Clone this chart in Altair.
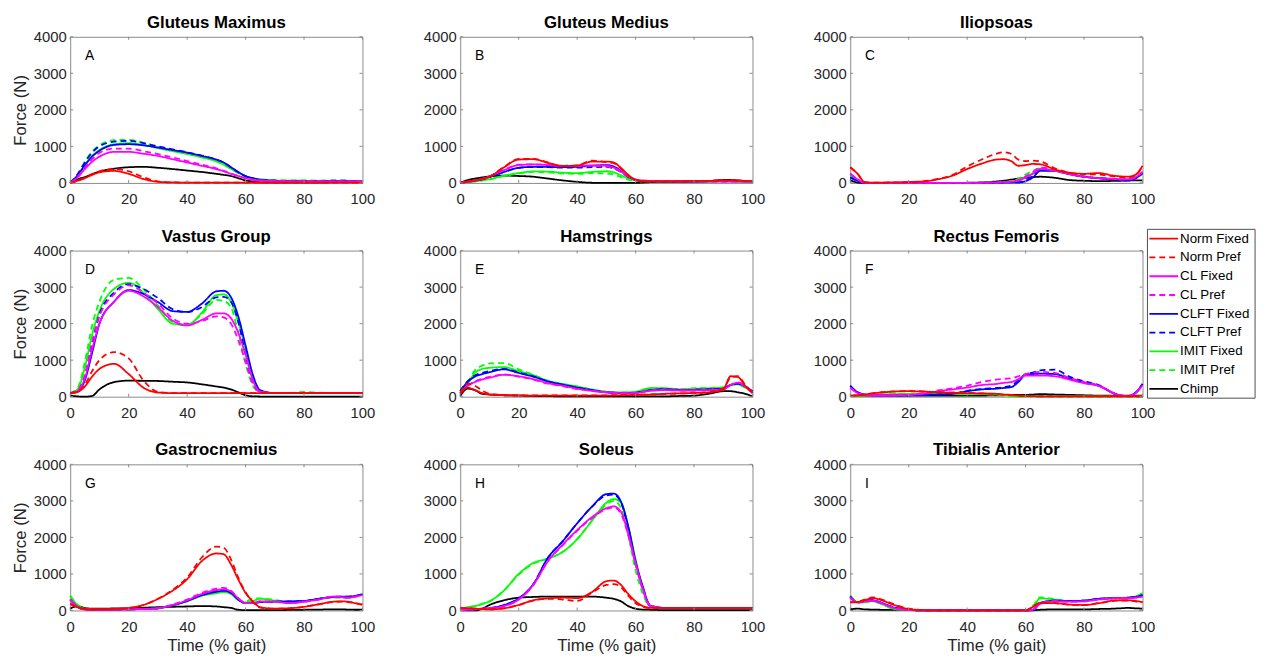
import altair as alt
import pandas as pd

# ---------------- data ----------------
X = [0, 2.5, 5, 7.5, 10, 15, 20, 25, 30, 35, 40, 45, 50, 52.5, 55,
     57.5, 60, 62.5, 65, 70, 75, 80, 85, 90, 92.5, 95, 97.5, 100]

SERIES = ["Norm Fixed", "Norm Pref", "CL Fixed", "CL Pref", "CLFT Fixed",
          "CLFT Pref", "IMIT Fixed", "IMIT Pref", "Chimp"]
COLORS = ["#ff0000", "#ff0000", "#ff00ff", "#ff00ff", "#0000ff",
          "#0000ff", "#00ff00", "#00ff00", "#000000"]
DASHES = [[1, 0], [6, 4], [1, 0], [6, 4], [1, 0], [6, 4], [1, 0], [6, 4], [1, 0]]

TITLES = ["Gluteus Maximus", "Gluteus Medius", "Iliopsoas",
          "Vastus Group", "Hamstrings", "Rectus Femoris",
          "Gastrocnemius", "Soleus", "Tibialis Anterior"]
LETTERS = ["A", "B", "C", "D", "E", "F", "G", "H", "I"]
TICK_X = [0, 20, 40, 60, 80, 100]
TICK_Y = [0, 1000, 2000, 3000, 4000]

GLUT_MAX = {
    "Norm Fixed": [0, 60, 130, 220, 290, 330, 250, 110, 30, 15, 10, 10, 10, 10, 10, 10, 10, 10, 10, 10, 10, 10, 10, 10, 10, 10, 10, 10],
    "Norm Pref": [0, 60, 140, 240, 320, 380, 320, 160, 40, 15, 10, 10, 10, 10, 10, 10, 10, 10, 10, 10, 10, 10, 10, 10, 10, 10, 10, 10],
    "CL Fixed": [0, 150, 380, 580, 720, 850, 850, 800, 740, 650, 560, 470, 380, 320, 250, 190, 130, 90, 70, 50, 45, 40, 40, 40, 40, 40, 40, 40],
    "CL Pref": [0, 170, 420, 650, 820, 940, 940, 870, 790, 700, 600, 500, 400, 330, 260, 190, 130, 90, 70, 50, 45, 40, 40, 40, 40, 40, 40, 40],
    "CLFT Fixed": [0, 200, 480, 720, 880, 1040, 1060, 1030, 970, 900, 830, 740, 640, 560, 430, 300, 190, 130, 90, 60, 50, 45, 45, 50, 50, 50, 45, 40],
    "CLFT Pref": [0, 230, 560, 830, 1000, 1130, 1150, 1090, 1000, 920, 840, 750, 640, 560, 430, 290, 180, 120, 90, 60, 55, 55, 55, 60, 60, 60, 50, 40],
    "IMIT Fixed": [0, 210, 500, 740, 900, 1060, 1090, 1040, 950, 870, 790, 700, 590, 500, 390, 280, 190, 130, 100, 70, 60, 60, 55, 55, 55, 55, 50, 45],
    "IMIT Pref": [0, 240, 580, 860, 1030, 1170, 1180, 1100, 990, 900, 810, 710, 600, 510, 390, 270, 180, 130, 100, 80, 70, 70, 65, 70, 70, 65, 55, 45],
    "Chimp": [0, 100, 160, 240, 310, 390, 430, 440, 415, 380, 340, 300, 250, 220, 190, 130, 70, 40, 18, 15, 15, 15, 15, 20, 20, 20, 20, 20],
}
GLUT_MED = {
    "Norm Fixed": [0, 40, 70, 110, 170, 430, 640, 650, 550, 460, 475, 585, 585, 560, 410, 220, 80, 50, 45, 45, 45, 50, 55, 70, 70, 65, 55, 40],
    "Norm Pref": [0, 40, 70, 110, 170, 440, 660, 660, 560, 470, 480, 610, 570, 540, 390, 200, 80, 50, 45, 45, 45, 50, 55, 65, 65, 60, 50, 40],
    "CL Fixed": [0, 30, 60, 110, 180, 350, 490, 505, 490, 470, 470, 480, 470, 420, 320, 180, 100, 60, 50, 50, 45, 45, 45, 45, 45, 45, 40, 40],
    "CL Pref": [0, 30, 60, 110, 180, 360, 500, 510, 490, 465, 460, 470, 450, 400, 300, 170, 90, 70, 60, 55, 50, 45, 45, 45, 45, 45, 40, 40],
    "CLFT Fixed": [0, 30, 60, 100, 160, 300, 415, 440, 440, 430, 440, 470, 490, 450, 330, 170, 90, 50, 45, 45, 45, 45, 45, 45, 45, 45, 40, 40],
    "CLFT Pref": [0, 30, 60, 100, 160, 300, 410, 435, 430, 420, 420, 430, 440, 400, 300, 160, 80, 50, 45, 45, 45, 45, 45, 45, 45, 45, 40, 40],
    "IMIT Fixed": [0, 20, 40, 70, 100, 200, 270, 315, 310, 280, 270, 300, 320, 290, 210, 120, 70, 40, 40, 40, 40, 40, 45, 50, 50, 45, 40, 40],
    "IMIT Pref": [0, 20, 40, 70, 100, 190, 260, 300, 290, 260, 250, 270, 260, 230, 160, 90, 55, 40, 40, 40, 40, 40, 45, 50, 50, 45, 40, 40],
    "Chimp": [0, 80, 120, 150, 180, 200, 190, 170, 120, 70, 30, 5, 0, 0, 0, 0, 0, 10, 20, 30, 30, 30, 50, 80, 80, 70, 50, 30],
}
ILIOPSOAS = {
    "Norm Fixed": [430, 250, 20, 10, 10, 15, 25, 40, 100, 200, 380, 530, 640, 650, 600, 470, 490, 520, 510, 370, 280, 250, 270, 200, 180, 170, 220, 470],
    "Norm Pref": [430, 250, 20, 10, 10, 15, 25, 45, 110, 220, 450, 640, 800, 840, 800, 640, 600, 610, 590, 400, 280, 240, 230, 180, 160, 150, 200, 460],
    "CL Fixed": [250, 100, 5, 0, 0, 0, 0, 0, 0, 0, 0, 5, 10, 20, 30, 60, 150, 250, 380, 330, 240, 170, 130, 110, 100, 100, 150, 300],
    "CL Pref": [260, 100, 5, 0, 0, 0, 0, 0, 0, 0, 0, 5, 10, 20, 40, 80, 180, 300, 420, 360, 250, 170, 130, 110, 100, 100, 150, 300],
    "CLFT Fixed": [150, 60, 5, 0, 0, 0, 0, 0, 0, 0, 0, 0, 5, 10, 15, 10, 50, 150, 330, 330, 240, 170, 130, 100, 80, 70, 120, 280],
    "CLFT Pref": [150, 60, 5, 0, 0, 0, 0, 0, 0, 0, 0, 0, 5, 10, 15, 20, 70, 180, 350, 340, 250, 170, 130, 100, 80, 70, 120, 270],
    "IMIT Fixed": [200, 80, 5, 0, 0, 0, 0, 0, 0, 0, 0, 5, 10, 20, 40, 80, 170, 270, 390, 330, 240, 170, 130, 110, 100, 100, 130, 250],
    "IMIT Pref": [210, 80, 5, 0, 0, 0, 0, 0, 0, 0, 0, 5, 10, 25, 50, 110, 230, 330, 400, 340, 240, 170, 130, 110, 100, 100, 130, 250],
    "Chimp": [80, 10, 0, 0, 0, 0, 0, 0, 0, 0, 5, 15, 40, 60, 90, 120, 140, 160, 170, 140, 80, 60, 50, 55, 60, 65, 70, 70],
}
VASTUS = {
    "Norm Fixed": [100, 130, 280, 550, 760, 900, 620, 250, 115, 100, 100, 100, 100, 100, 100, 100, 100, 100, 100, 100, 100, 100, 100, 100, 100, 100, 100, 100],
    "Norm Pref": [100, 140, 330, 700, 1000, 1220, 1050, 450, 130, 100, 100, 100, 100, 100, 100, 100, 100, 100, 100, 100, 100, 100, 100, 100, 100, 100, 100, 100],
    "CL Fixed": [100, 150, 500, 1300, 2000, 2600, 2900, 2750, 2450, 2080, 1950, 2100, 2280, 2280, 2150, 1750, 1150, 450, 140, 100, 100, 100, 100, 100, 100, 100, 100, 100],
    "CL Pref": [100, 170, 600, 1500, 2200, 2800, 3050, 2850, 2550, 2150, 2000, 2070, 2200, 2170, 2000, 1550, 950, 350, 130, 100, 100, 100, 100, 100, 100, 100, 100, 100],
    "CLFT Fixed": [100, 140, 450, 1200, 2000, 2600, 2920, 2815, 2590, 2345, 2320, 2545, 2885, 2900, 2725, 2200, 1400, 600, 180, 100, 100, 100, 100, 100, 100, 100, 100, 100],
    "CLFT Pref": [100, 160, 550, 1450, 2250, 2850, 3080, 2950, 2700, 2400, 2320, 2450, 2720, 2730, 2600, 2050, 1150, 400, 140, 100, 100, 100, 100, 100, 100, 100, 100, 100],
    "IMIT Fixed": [100, 200, 800, 1700, 2350, 2950, 3120, 2850, 2400, 2000, 1960, 2300, 2780, 2800, 2600, 2050, 1300, 500, 140, 100, 100, 100, 100, 100, 100, 100, 100, 100],
    "IMIT Pref": [100, 230, 950, 1950, 2600, 3200, 3250, 2950, 2500, 2050, 1980, 2250, 2650, 2620, 2450, 1750, 900, 300, 120, 100, 100, 130, 110, 100, 100, 100, 100, 100],
    "Chimp": [30, 10, 0, 20, 200, 400, 440, 435, 430, 410, 390, 340, 280, 250, 200, 120, 40, 10, 5, 0, 0, 0, 0, 0, 0, 0, 0, 0],
}
HAMSTRINGS = {
    "Norm Fixed": [80, 250, 180, 100, 60, 40, 35, 30, 30, 30, 30, 30, 30, 35, 40, 45, 50, 55, 60, 80, 90, 100, 120, 200, 560, 540, 300, 100],
    "Norm Pref": [100, 350, 300, 170, 80, 50, 40, 35, 35, 35, 35, 35, 35, 40, 40, 45, 50, 55, 60, 80, 90, 100, 130, 220, 520, 560, 320, 100],
    "CL Fixed": [100, 300, 400, 470, 520, 600, 560, 480, 370, 300, 220, 160, 120, 110, 100, 100, 100, 130, 160, 180, 170, 170, 180, 200, 320, 380, 280, 100],
    "CL Pref": [100, 300, 420, 490, 540, 610, 550, 470, 360, 290, 210, 160, 120, 110, 100, 100, 100, 130, 170, 180, 170, 170, 180, 200, 320, 390, 290, 100],
    "CLFT Fixed": [150, 400, 550, 620, 670, 750, 650, 550, 420, 330, 250, 180, 120, 110, 100, 100, 110, 140, 180, 200, 190, 190, 200, 220, 320, 360, 280, 150],
    "CLFT Pref": [150, 420, 580, 650, 700, 760, 660, 560, 420, 330, 250, 180, 120, 110, 100, 100, 110, 140, 180, 200, 190, 190, 200, 220, 320, 360, 280, 150],
    "IMIT Fixed": [200, 350, 650, 760, 790, 810, 700, 590, 430, 350, 280, 200, 135, 120, 115, 120, 135, 190, 235, 230, 200, 220, 230, 250, 320, 340, 250, 150],
    "IMIT Pref": [200, 380, 720, 850, 910, 920, 750, 600, 440, 350, 280, 200, 135, 120, 115, 120, 135, 190, 235, 230, 210, 230, 240, 260, 320, 330, 250, 150],
    "Chimp": [20, 220, 180, 80, 60, 40, 30, 20, 15, 10, 10, 10, 10, 10, 10, 10, 10, 10, 10, 10, 20, 30, 80, 150, 150, 120, 80, 10],
}
RECTUS = {
    "Norm Fixed": [20, 40, 60, 90, 110, 140, 150, 140, 120, 110, 100, 90, 80, 60, 50, 30, 20, 15, 10, 10, 10, 10, 10, 10, 10, 10, 10, 10],
    "Norm Pref": [20, 40, 60, 90, 115, 145, 155, 145, 125, 110, 100, 90, 75, 55, 45, 30, 20, 15, 10, 10, 10, 10, 10, 10, 10, 10, 10, 10],
    "CL Fixed": [250, 100, 50, 40, 40, 40, 50, 80, 150, 200, 250, 320, 350, 380, 400, 480, 580, 580, 580, 560, 470, 370, 300, 100, 40, 20, 90, 320],
    "CL Pref": [250, 100, 50, 40, 40, 40, 50, 90, 170, 230, 300, 400, 470, 490, 500, 560, 620, 660, 680, 650, 520, 400, 310, 100, 40, 20, 90, 320],
    "CLFT Fixed": [300, 120, 60, 40, 40, 40, 40, 50, 60, 80, 150, 200, 220, 240, 260, 400, 600, 620, 630, 620, 500, 380, 300, 100, 30, 20, 100, 350],
    "CLFT Pref": [300, 120, 60, 40, 40, 40, 40, 50, 60, 80, 160, 210, 240, 260, 300, 450, 620, 660, 720, 740, 550, 420, 320, 100, 30, 20, 100, 350],
    "IMIT Fixed": [20, 30, 40, 50, 60, 70, 80, 80, 80, 80, 80, 70, 60, 40, 20, 10, 10, 10, 10, 10, 10, 10, 10, 10, 10, 10, 10, 10],
    "IMIT Pref": [20, 30, 40, 50, 60, 70, 80, 85, 85, 85, 80, 70, 55, 35, 20, 10, 10, 10, 10, 10, 10, 10, 10, 10, 10, 10, 10, 10],
    "Chimp": [30, 30, 30, 30, 30, 30, 30, 30, 30, 30, 30, 30, 40, 40, 45, 50, 50, 60, 70, 60, 50, 40, 30, 30, 30, 30, 30, 30],
}
GASTROC = {
    "Norm Fixed": [180, 90, 40, 30, 30, 40, 70, 150, 315, 540, 855, 1350, 1560, 1540, 1260, 850, 480, 250, 90, 50, 60, 100, 170, 240, 250, 240, 200, 160],
    "Norm Pref": [180, 90, 40, 30, 30, 40, 70, 150, 320, 560, 900, 1450, 1750, 1720, 1400, 900, 500, 230, 80, 50, 60, 100, 170, 230, 240, 230, 200, 160],
    "CL Fixed": [300, 100, 30, 20, 20, 25, 30, 40, 60, 150, 280, 450, 560, 580, 520, 330, 200, 200, 250, 240, 200, 240, 300, 380, 370, 350, 380, 420],
    "CL Pref": [300, 100, 30, 20, 20, 25, 30, 40, 60, 160, 300, 480, 600, 620, 540, 340, 200, 200, 250, 240, 200, 240, 300, 380, 370, 350, 380, 420],
    "CLFT Fixed": [300, 100, 30, 20, 20, 25, 30, 40, 60, 140, 260, 420, 510, 540, 480, 300, 200, 200, 230, 240, 250, 260, 320, 370, 380, 380, 400, 440],
    "CLFT Pref": [300, 100, 30, 20, 20, 25, 30, 40, 60, 145, 270, 440, 540, 560, 500, 310, 200, 200, 230, 240, 250, 260, 320, 370, 380, 380, 400, 440],
    "IMIT Fixed": [400, 150, 50, 30, 20, 25, 30, 40, 60, 140, 250, 400, 470, 500, 450, 280, 220, 260, 320, 270, 220, 240, 320, 360, 360, 350, 380, 460],
    "IMIT Pref": [400, 150, 50, 30, 20, 25, 30, 40, 60, 150, 260, 420, 490, 520, 470, 300, 240, 330, 330, 290, 230, 250, 320, 350, 350, 350, 380, 450],
    "Chimp": [50, 120, 70, 50, 50, 55, 60, 75, 90, 100, 110, 120, 110, 90, 70, 20, 10, 10, 10, 10, 15, 20, 25, 30, 30, 25, 20, 20],
}
SOLEUS = {
    "Norm Fixed": [70, 60, 50, 40, 30, 60, 150, 280, 330, 350, 340, 500, 800, 820, 700, 450, 250, 120, 70, 70, 70, 70, 70, 70, 70, 70, 70, 70],
    "Norm Pref": [70, 60, 50, 40, 30, 60, 150, 270, 320, 300, 260, 480, 700, 720, 640, 400, 200, 100, 70, 70, 70, 70, 70, 70, 70, 70, 70, 70],
    "CL Fixed": [20, 20, 30, 50, 60, 120, 300, 700, 1350, 1800, 2200, 2550, 2800, 2850, 2700, 2100, 1300, 600, 130, 70, 70, 70, 70, 70, 70, 70, 70, 70],
    "CL Pref": [20, 20, 30, 50, 60, 120, 300, 700, 1350, 1780, 2180, 2520, 2780, 2820, 2650, 2050, 1250, 550, 120, 70, 70, 70, 70, 70, 70, 70, 70, 70],
    "CLFT Fixed": [20, 20, 30, 40, 60, 150, 330, 720, 1440, 1890, 2385, 2835, 3185, 3200, 2980, 2300, 1350, 650, 135, 70, 70, 70, 70, 70, 70, 70, 70, 70],
    "CLFT Pref": [20, 20, 30, 40, 60, 150, 330, 720, 1440, 1890, 2385, 2835, 3150, 3170, 2950, 2250, 1300, 600, 130, 70, 70, 70, 70, 70, 70, 70, 70, 70],
    "IMIT Fixed": [20, 90, 120, 180, 250, 550, 1000, 1300, 1420, 1600, 1950, 2450, 2950, 3050, 2950, 2300, 1400, 600, 120, 70, 70, 70, 70, 70, 70, 70, 70, 70],
    "IMIT Pref": [20, 90, 120, 180, 250, 550, 980, 1280, 1420, 1600, 1950, 2450, 2900, 3000, 2800, 2050, 1100, 450, 110, 70, 70, 70, 70, 70, 70, 70, 70, 70],
    "Chimp": [0, 0, 0, 50, 150, 280, 350, 370, 380, 380, 380, 380, 350, 320, 250, 120, 50, 25, 20, 10, 10, 10, 10, 10, 10, 10, 10, 10],
}
TIBIALIS = {
    "Norm Fixed": [220, 230, 280, 340, 300, 150, 40, 10, 0, 0, 0, 0, 0, 0, 0, 0, 0, 100, 200, 200, 160, 150, 200, 270, 280, 280, 260, 230],
    "Norm Pref": [230, 240, 300, 360, 320, 170, 50, 10, 0, 0, 0, 0, 0, 0, 0, 0, 0, 110, 210, 200, 160, 150, 200, 260, 270, 270, 250, 220],
    "CL Fixed": [350, 220, 250, 270, 220, 70, 15, 0, 0, 0, 0, 0, 0, 0, 0, 0, 0, 20, 180, 250, 240, 250, 300, 330, 340, 340, 350, 380],
    "CL Pref": [350, 220, 250, 270, 220, 70, 15, 0, 0, 0, 0, 0, 0, 0, 0, 0, 0, 30, 200, 260, 240, 250, 300, 330, 340, 340, 350, 380],
    "CLFT Fixed": [380, 220, 260, 280, 230, 80, 20, 0, 0, 0, 0, 0, 0, 0, 0, 0, 0, 10, 200, 270, 260, 270, 320, 340, 345, 350, 370, 420],
    "CLFT Pref": [380, 220, 260, 280, 230, 80, 20, 0, 0, 0, 0, 0, 0, 0, 0, 0, 0, 20, 210, 270, 260, 270, 320, 340, 345, 350, 370, 420],
    "IMIT Fixed": [400, 230, 220, 260, 200, 40, 10, 0, 0, 0, 0, 0, 0, 0, 0, 0, 0, 100, 330, 300, 250, 270, 310, 330, 340, 350, 380, 480],
    "IMIT Pref": [400, 230, 220, 260, 200, 45, 10, 0, 0, 0, 0, 0, 0, 0, 0, 0, 0, 130, 360, 310, 260, 270, 310, 330, 340, 350, 380, 470],
    "Chimp": [30, 50, 30, 25, 20, 15, 10, 5, 0, 0, 0, 0, 0, 0, 0, 0, 0, 5, 20, 30, 30, 30, 40, 50, 60, 70, 60, 50],
}
PANELS = [GLUT_MAX, GLUT_MED, ILIOPSOAS, VASTUS, HAMSTRINGS, RECTUS,
          GASTROC, SOLEUS, TIBIALIS]

for p in PANELS:
    for s in SERIES:
        assert len(p[s]) == len(X), (s, len(p[s]))

# ---------------- style ----------------
W, H = 296, 148
FONT = "Liberation Sans"
TXT = "#262626"
BOX = "#8a8a8a"
LEG_PANEL = 2  # legend drawn as layers of panel C (extends below it)


def legend_layers(color_enc, dash_enc):
    ld = pd.DataFrame({"series": SERIES, "idx": list(range(len(SERIES)))})
    box = alt.Chart(pd.DataFrame({"k": [0]})).mark_rect(
        fill="white", stroke="#4d4d4d", strokeWidth=1
    ).encode(x=alt.value(301), x2=alt.value(410), y=alt.value(195), y2=alt.value(366))
    base = alt.Chart(ld).transform_calculate(py="datum.idx * 19 + 204.5")
    sym = base.mark_rule(strokeWidth=1.8).encode(
        x=alt.value(303), x2=alt.value(332),
        y=alt.Y("py:Q", scale=None),
        color=color_enc, strokeDash=dash_enc)
    lab = base.mark_text(align="left", baseline="middle", font=FONT,
                         fontSize=13.5, color="#000000").encode(
        x=alt.value(334), y=alt.Y("py:Q", scale=None), text="series:N")
    return [box, sym, lab]


def panel(i):
    data = PANELS[i]
    rows = []
    for s in reversed(SERIES):
        for xv, yv in zip(X, data[s]):
            rows.append({"series": s, "x": xv, "y": yv})
    df = pd.DataFrame(rows)
    row, col = divmod(i, 3)

    xaxis = alt.Axis(values=TICK_X, format="d", labelFlush=False,
                     title="Time (% gait)" if row == 2 else None,
                     labelPadding=9, titlePadding=4)
    yaxis = alt.Axis(values=TICK_Y, format="d",
                     title="Force (N)" if col == 0 else None,
                     labelPadding=4, titlePadding=4)
    xs = alt.Scale(domain=[0, 100], nice=False)
    ys = alt.Scale(domain=[0, 4000], nice=False)

    color_enc = alt.Color("series:N", scale=alt.Scale(domain=SERIES, range=COLORS),
                          legend=None)
    dash_enc = alt.StrokeDash("series:N", scale=alt.Scale(domain=SERIES, range=DASHES),
                              legend=None)

    lines = alt.Chart(df).mark_line(strokeWidth=1.8, interpolate="monotone").encode(
        x=alt.X("x:Q", scale=xs, axis=xaxis),
        y=alt.Y("y:Q", scale=ys, axis=yaxis),
        color=color_enc,
        strokeDash=dash_enc,
    )

    tx = pd.DataFrame({"x": TICK_X})
    ty = pd.DataFrame({"y": TICK_Y})
    tick_b = alt.Chart(tx).mark_rule(color=BOX, strokeWidth=1).encode(
        x=alt.X("x:Q", scale=xs, axis=xaxis), y=alt.value(H), y2=alt.value(H - 3))
    tick_t = alt.Chart(tx).mark_rule(color=BOX, strokeWidth=1).encode(
        x=alt.X("x:Q", scale=xs, axis=xaxis), y=alt.value(0), y2=alt.value(3))
    tick_l = alt.Chart(ty).mark_rule(color=BOX, strokeWidth=1).encode(
        y=alt.Y("y:Q", scale=ys, axis=yaxis), x=alt.value(0), x2=alt.value(3))
    tick_r = alt.Chart(ty).mark_rule(color=BOX, strokeWidth=1).encode(
        y=alt.Y("y:Q", scale=ys, axis=yaxis), x=alt.value(W), x2=alt.value(W - 3))

    letter = alt.Chart(pd.DataFrame({"t": [LETTERS[i]]})).mark_text(
        align="left", baseline="alphabetic", font=FONT, fontSize=14, color="#000000"
    ).encode(x=alt.value(15), y=alt.value(24), text="t:N")

    layers = [lines, tick_b, tick_t, tick_l, tick_r, letter]
    if i == LEG_PANEL:
        layers += legend_layers(color_enc, dash_enc)

    return alt.layer(*layers).properties(
        width=W, height=H,
        title=alt.TitleParams(TITLES[i], font=FONT, fontSize=17, fontWeight="bold",
                              color="#000000", offset=-2),
    )


chart = alt.concat(*[panel(i) for i in range(9)], columns=3,
                   spacing={"row": 68.5, "column": 99}, bounds="flush")
chart = chart.properties(
    padding={"left": 3, "top": 1, "right": 5, "bottom": 2}
).configure_view(stroke=BOX, strokeWidth=1).configure_axis(
    grid=False, domain=False, ticks=False, tickSize=0,
    labelFont=FONT, labelFontSize=15, labelColor=TXT,
    titleFont=FONT, titleFontSize=17, titleFontWeight="normal", titleColor=TXT,
)

chart.save("out.html", embed_options={"renderer": "svg", "actions": False})
